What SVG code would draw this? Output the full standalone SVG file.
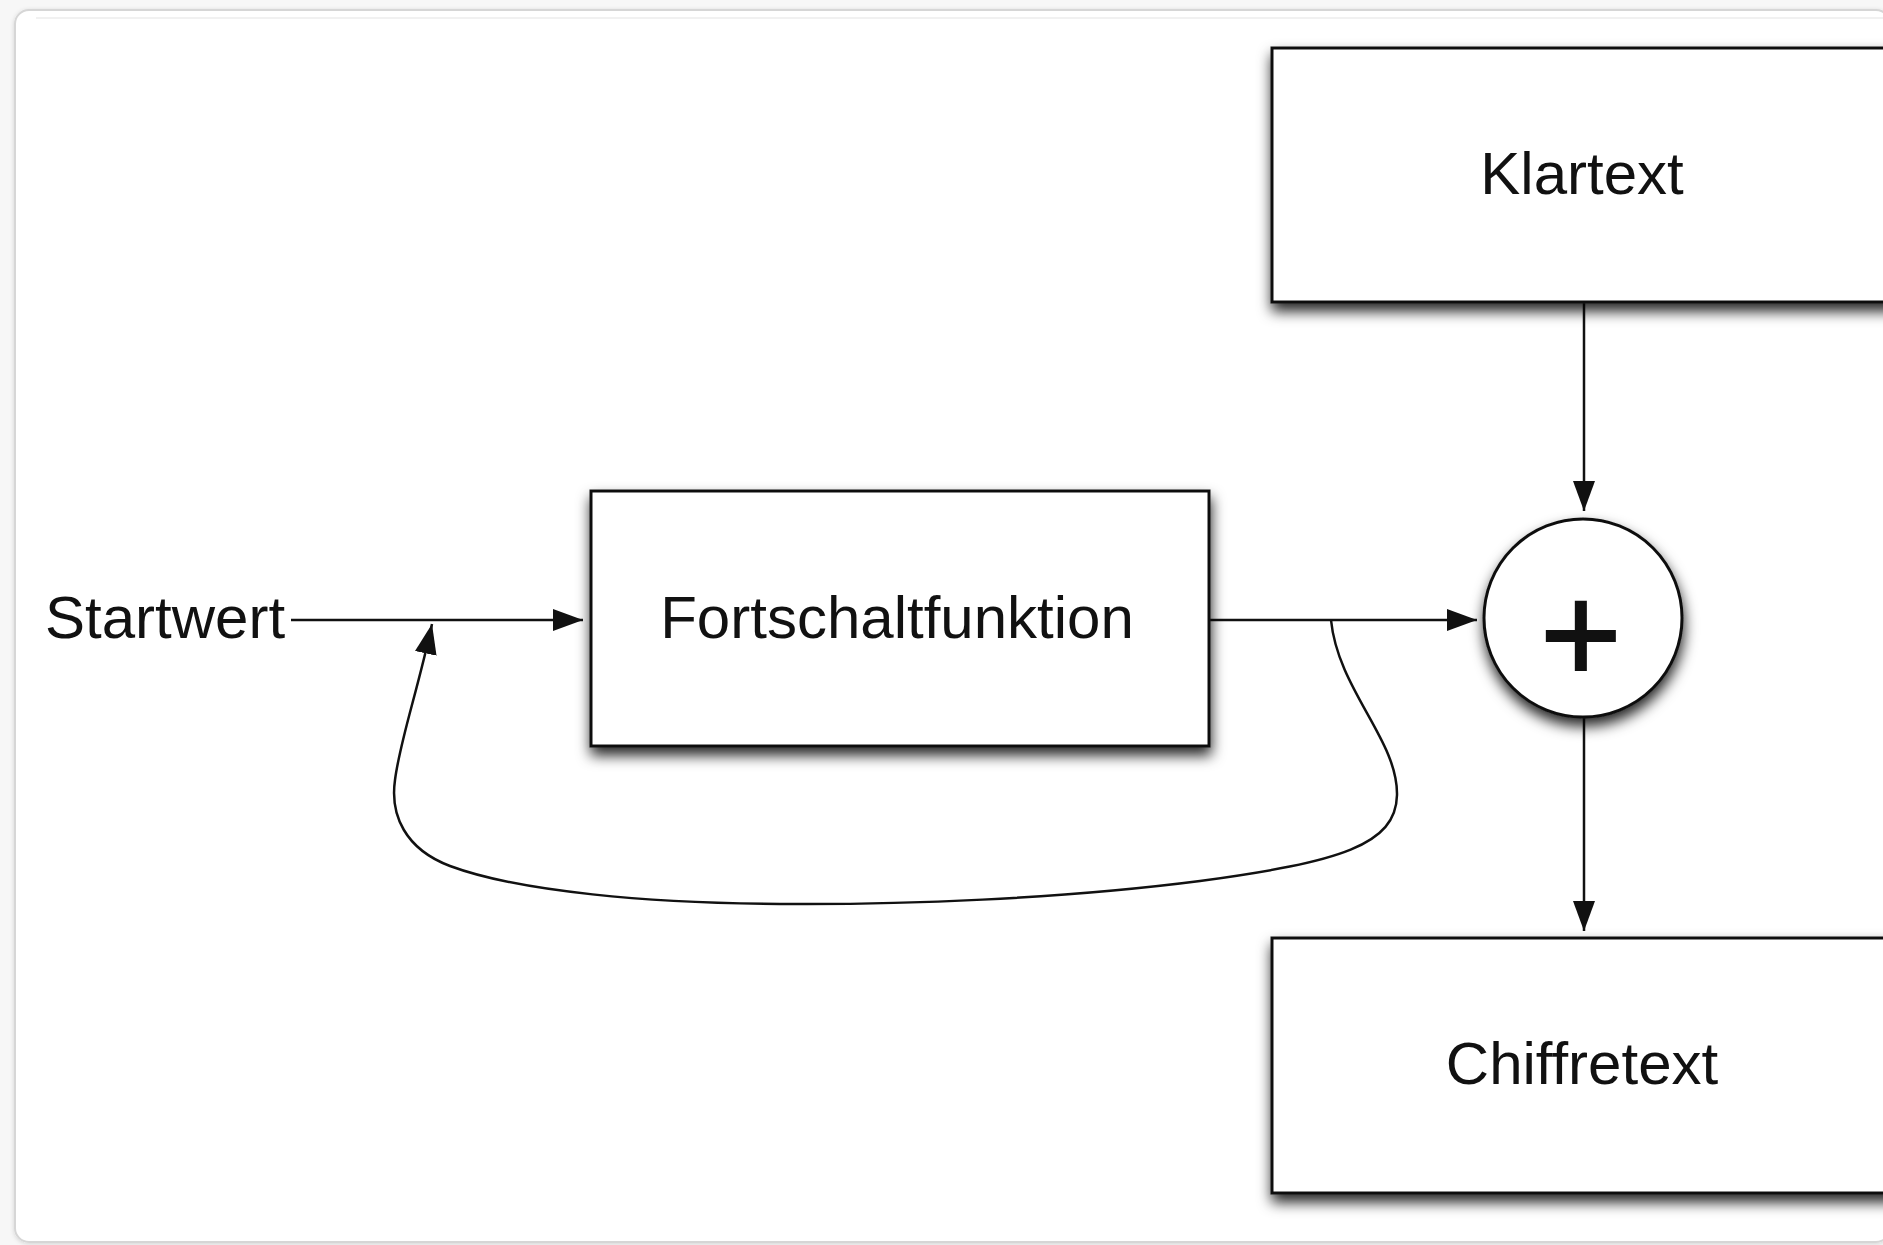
<svg xmlns="http://www.w3.org/2000/svg" width="1883" height="1245" viewBox="0 0 1883 1245">
  <style>
    .box { fill: #ffffff; stroke: #111111; stroke-width: 3; }
    .label { font-family: "Liberation Sans", Arial, Helvetica, sans-serif; font-size: 60px; fill: #111111; }
    .edge { fill: none; stroke: #111111; stroke-width: 2.5; }
  </style>
  <defs>
    <filter id="shadow" x="-10%" y="-10%" width="120%" height="150%">
      <feDropShadow dx="1" dy="8" stdDeviation="7" flood-color="#000000" flood-opacity="0.85"/>
    </filter>
    <filter id="panelShadow" x="-2%" y="-2%" width="104%" height="104%">
      <feDropShadow dx="0" dy="1" stdDeviation="2" flood-color="#000000" flood-opacity="0.15"/>
    </filter>
    <marker id="arrow" markerUnits="userSpaceOnUse" viewBox="0 0 30 22" refX="30" refY="11" markerWidth="30" markerHeight="22" orient="auto">
      <path d="M0,0 L30,11 L0,22 Z" fill="#111111"/>
    </marker>
  </defs>

  <!-- canvas background and frame -->
  <rect x="0" y="0" width="1883" height="1245" fill="#f7f7f7"/>
  <rect x="15" y="10" width="1875" height="1232" rx="14" fill="#ffffff" stroke="#d6d6d6" stroke-width="2" filter="url(#panelShadow)"/>
  <line x1="36" y1="18" x2="1883" y2="18" stroke="#ececec" stroke-width="1.5"/>

  <!-- connectors -->
  <g id="connectors">
    <line id="e-start" class="edge" x1="291" y1="620" x2="583" y2="620" marker-end="url(#arrow)"/>
    <line id="e-out" class="edge" x1="1209" y1="620" x2="1477" y2="620" marker-end="url(#arrow)"/>
    <line id="e-klar" class="edge" x1="1584" y1="303" x2="1584" y2="511" marker-end="url(#arrow)"/>
    <line id="e-chiffre" class="edge" x1="1584" y1="717" x2="1584" y2="931" marker-end="url(#arrow)"/>
    <path id="e-feedback" class="edge" marker-end="url(#arrow)"
          d="M1331,620 C1338,690 1398,740 1397,795 C1396,845 1340,862 1200,881 C1060,899 900,905 780,904 C650,903 520,892 450,866 C405,849 390,815 395,780 C400,740 418,690 432,624"/>
  </g>

  <!-- input label -->
  <g id="startwert">
    <text class="label" x="45" y="638">Startwert</text>
  </g>

  <!-- state update function -->
  <g id="fortschaltfunktion">
    <rect class="box" x="591" y="491" width="618" height="255" filter="url(#shadow)"/>
    <text class="label" x="897" y="638" text-anchor="middle">Fortschaltfunktion</text>
  </g>

  <!-- plaintext -->
  <g id="klartext">
    <rect class="box" x="1272" y="48" width="640" height="254" filter="url(#shadow)"/>
    <text class="label" x="1582" y="194" text-anchor="middle">Klartext</text>
  </g>

  <!-- combiner -->
  <g id="kombinierer">
    <circle class="box" cx="1583" cy="618" r="99" filter="url(#shadow)"/>
    <text x="1581" y="682" text-anchor="middle" font-family="Liberation Sans, Arial, sans-serif" font-size="140" fill="#111111" stroke="#111111" stroke-width="2">+</text>
  </g>

  <!-- ciphertext -->
  <g id="chiffretext">
    <rect class="box" x="1272" y="938" width="640" height="255" filter="url(#shadow)"/>
    <text class="label" x="1582" y="1084" text-anchor="middle">Chiffretext</text>
  </g>
</svg>
